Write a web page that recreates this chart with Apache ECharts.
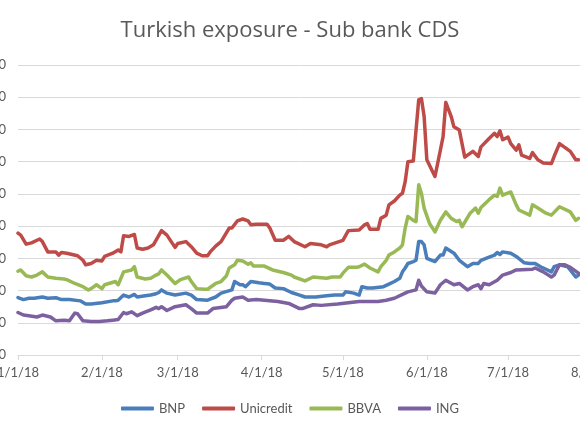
<!DOCTYPE html>
<html>
<head>
<meta charset="utf-8">
<script src="https://cdn.jsdelivr.net/npm/echarts@6/dist/echarts.min.js"></script>
<style>html,body{margin:0;padding:0;background:#fff;}#c{width:580px;height:435px;}</style>
</head>
<body>
<div id="c"></div>
<script>
var seriesNames = ['BNP', 'Unicredit', 'BBVA', 'ING'];
var yTicks = [0, 50, 100, 150, 200, 250, 300, 350, 400, 450];
var xRange = ['2018-01-01', '2018-08-01'];

var bnp = [
['2018-01-01',89],['2018-01-03',86],['2018-01-05',88],['2018-01-07',88],['2018-01-10',90],['2018-01-12',88],['2018-01-15',89],['2018-01-17',86],['2018-01-20',86],['2018-01-24',84],['2018-01-26',79],['2018-01-28',79],['2018-02-01',81],['2018-02-05',84],['2018-02-06',84],['2018-02-07',85],['2018-02-09',93],['2018-02-11',90],['2018-02-13',94],['2018-02-14',90],['2018-02-17',92],['2018-02-19',93],['2018-02-21',95],['2018-02-22',97],['2018-02-23',101],['2018-02-25',96],['2018-02-28',93],['2018-03-04',96],['2018-03-06',93],['2018-03-08',86],['2018-03-12',85],['2018-03-15',90],['2018-03-17',96],['2018-03-21',101],['2018-03-22',114],['2018-03-24',109],['2018-03-25',109],['2018-03-26',106],['2018-03-28',114],['2018-03-31',112],['2018-04-02',111],['2018-04-04',110],['2018-04-06',104],['2018-04-09',103],['2018-04-12',97],['2018-04-15',93],['2018-04-17',90],['2018-04-21',90],['2018-04-25',92],['2018-04-28',93],['2018-05-01',93],['2018-05-02',98],['2018-05-05',96],['2018-05-07',93],['2018-05-08',106],['2018-05-10',104],['2018-05-12',104],['2018-05-16',106],['2018-05-18',110],['2018-05-20',114],['2018-05-22',119],['2018-05-23',129],['2018-05-24',135],['2018-05-25',142],['2018-05-27',145],['2018-05-28',147],['2018-05-29',176],['2018-05-30',176],['2018-05-31',171],['2018-06-01',150],['2018-06-04',145],['2018-06-06',155],['2018-06-07',155],['2018-06-08',166],['2018-06-11',158],['2018-06-13',147],['2018-06-16',137],['2018-06-18',142],['2018-06-20',142],['2018-06-21',147],['2018-06-24',152],['2018-06-26',155],['2018-06-27',159],['2018-06-28',156],['2018-06-29',160],['2018-07-02',158],['2018-07-04',153],['2018-07-07',143],['2018-07-09',142],['2018-07-11',142],['2018-07-13',137],['2018-07-17',129],['2018-07-18',137],['2018-07-20',140],['2018-07-23',137],['2018-07-26',121],['2018-07-27',124]
];

var unicredit = [
['2018-01-01',189],['2018-01-02',186],['2018-01-04',172],['2018-01-06',174],['2018-01-09',180],['2018-01-10',176],['2018-01-12',160],['2018-01-15',160],['2018-01-16',155],['2018-01-17',159],['2018-01-19',158],['2018-01-23',154],['2018-01-25',147],['2018-01-26',140],['2018-01-28',142],['2018-01-30',147],['2018-02-01',146],['2018-02-02',153],['2018-02-05',158],['2018-02-07',163],['2018-02-08',160],['2018-02-09',185],['2018-02-11',184],['2018-02-13',187],['2018-02-14',166],['2018-02-16',164],['2018-02-18',166],['2018-02-20',171],['2018-02-23',193],['2018-02-25',186],['2018-02-28',167],['2018-03-01',173],['2018-03-04',176],['2018-03-06',168],['2018-03-08',158],['2018-03-10',154],['2018-03-12',154],['2018-03-13',160],['2018-03-15',169],['2018-03-17',176],['2018-03-20',197],['2018-03-21',197],['2018-03-23',208],['2018-03-25',211],['2018-03-27',208],['2018-03-28',202],['2018-03-30',203],['2018-04-03',203],['2018-04-04',197],['2018-04-06',178],['2018-04-09',178],['2018-04-11',184],['2018-04-13',176],['2018-04-17',168],['2018-04-19',173],['2018-04-23',171],['2018-04-25',168],['2018-04-26',171],['2018-05-01',178],['2018-05-03',193],['2018-05-07',194],['2018-05-09',202],['2018-05-10',204],['2018-05-11',195],['2018-05-14',195],['2018-05-15',212],['2018-05-17',217],['2018-05-18',233],['2018-05-20',239],['2018-05-22',248],['2018-05-23',251],['2018-05-24',269],['2018-05-25',300],['2018-05-27',301],['2018-05-29',396],['2018-05-30',398],['2018-05-31',370],['2018-06-01',303],['2018-06-04',277],['2018-06-06',318],['2018-06-07',339],['2018-06-08',392],['2018-06-10',370],['2018-06-11',354],['2018-06-13',349],['2018-06-15',307],['2018-06-18',316],['2018-06-20',308],['2018-06-21',323],['2018-06-24',336],['2018-06-26',344],['2018-06-27',339],['2018-06-28',348],['2018-06-29',334],['2018-07-01',338],['2018-07-02',328],['2018-07-04',318],['2018-07-05',326],['2018-07-06',310],['2018-07-09',305],['2018-07-10',314],['2018-07-12',303],['2018-07-14',298],['2018-07-17',297],['2018-07-18',308],['2018-07-20',328],['2018-07-24',316],['2018-07-26',303],['2018-07-27',303]
];

var bbva = [
['2018-01-01',130],['2018-01-02',132],['2018-01-04',123],['2018-01-06',121],['2018-01-08',124],['2018-01-10',129],['2018-01-12',121],['2018-01-15',119],['2018-01-18',118],['2018-01-19',117],['2018-01-22',111],['2018-01-25',106],['2018-01-27',101],['2018-01-28',103],['2018-01-30',109],['2018-02-01',103],['2018-02-02',109],['2018-02-06',114],['2018-02-07',109],['2018-02-09',129],['2018-02-12',132],['2018-02-13',137],['2018-02-14',121],['2018-02-17',118],['2018-02-19',119],['2018-02-21',124],['2018-02-22',126],['2018-02-23',132],['2018-02-25',124],['2018-02-28',111],['2018-03-02',117],['2018-03-05',121],['2018-03-06',114],['2018-03-08',103],['2018-03-11',102],['2018-03-12',102],['2018-03-15',111],['2018-03-17',114],['2018-03-19',123],['2018-03-20',135],['2018-03-22',140],['2018-03-23',147],['2018-03-25',146],['2018-03-27',141],['2018-03-28',143],['2018-03-29',138],['2018-04-02',138],['2018-04-05',132],['2018-04-09',128],['2018-04-12',124],['2018-04-13',121],['2018-04-17',115],['2018-04-20',121],['2018-04-25',119],['2018-04-27',121],['2018-04-30',121],['2018-05-01',127],['2018-05-03',136],['2018-05-06',136],['2018-05-07',137],['2018-05-09',141],['2018-05-11',135],['2018-05-14',129],['2018-05-15',137],['2018-05-17',147],['2018-05-18',155],['2018-05-20',160],['2018-05-22',166],['2018-05-23',171],['2018-05-24',197],['2018-05-25',215],['2018-05-27',209],['2018-05-28',207],['2018-05-29',264],['2018-05-30',251],['2018-05-31',228],['2018-06-02',204],['2018-06-04',191],['2018-06-06',209],['2018-06-08',222],['2018-06-10',212],['2018-06-12',207],['2018-06-13',209],['2018-06-14',199],['2018-06-17',220],['2018-06-19',228],['2018-06-20',220],['2018-06-21',229],['2018-06-24',241],['2018-06-26',248],['2018-06-27',246],['2018-06-28',259],['2018-06-29',248],['2018-07-02',253],['2018-07-04',233],['2018-07-05',225],['2018-07-09',217],['2018-07-10',233],['2018-07-12',228],['2018-07-15',220],['2018-07-17',217],['2018-07-20',230],['2018-07-24',222],['2018-07-26',209],['2018-07-27',212]
];

var ing = [
['2018-01-01',66],['2018-01-03',62],['2018-01-05',61],['2018-01-08',59],['2018-01-10',62],['2018-01-13',59],['2018-01-15',53],['2018-01-18',54],['2018-01-20',53],['2018-01-22',65],['2018-01-23',64],['2018-01-25',53],['2018-01-28',52],['2018-01-31',52],['2018-02-03',53],['2018-02-05',54],['2018-02-07',55],['2018-02-09',66],['2018-02-10',64],['2018-02-12',67],['2018-02-14',61],['2018-02-16',65],['2018-02-19',70],['2018-02-21',74],['2018-02-22',72],['2018-02-23',75],['2018-02-25',69],['2018-02-28',75],['2018-03-04',78],['2018-03-06',72],['2018-03-08',65],['2018-03-12',65],['2018-03-14',72],['2018-03-19',75],['2018-03-21',85],['2018-03-22',88],['2018-03-25',90],['2018-03-27',85],['2018-03-30',86],['2018-04-02',85],['2018-04-07',83],['2018-04-11',80],['2018-04-15',72],['2018-04-16',72],['2018-04-20',78],['2018-04-23',77],['2018-04-29',79],['2018-05-03',81],['2018-05-07',83],['2018-05-14',83],['2018-05-17',85],['2018-05-20',88],['2018-05-24',96],['2018-05-25',98],['2018-05-28',101],['2018-05-29',116],['2018-05-30',107],['2018-06-01',98],['2018-06-04',96],['2018-06-06',109],['2018-06-08',116],['2018-06-11',109],['2018-06-13',111],['2018-06-16',101],['2018-06-18',106],['2018-06-20',109],['2018-06-21',103],['2018-06-22',111],['2018-06-24',109],['2018-06-27',116],['2018-06-29',124],['2018-07-02',128],['2018-07-04',132],['2018-07-10',133],['2018-07-11',135],['2018-07-14',129],['2018-07-17',121],['2018-07-18',124],['2018-07-20',140],['2018-07-22',140],['2018-07-24',136],['2018-07-27',127]
];

var colors = ['#4A7EBB', '#BE4B48', '#98B954', '#7D60A0'];
var seriesData = [bnp, unicredit, bbva, ing];

function toTime(s) { var p = s.split('-'); return new Date(+p[0], +p[1] - 1, +p[2]).getTime(); }

var chart = echarts.init(document.getElementById('c'), null, { renderer: 'canvas' });
var font = 'Lato, "Open Sans", sans-serif';
chart.setOption({
  animation: false,
  backgroundColor: '#ffffff',
  title: {
    text: 'Turkish exposure - Sub bank CDS',
    left: 'center',
    top: 15,
    textStyle: { fontFamily: '"Open Sans", Lato, sans-serif', fontSize: 22, fontWeight: 'normal', color: '#595959' }
  },
  legend: {
    data: seriesNames,
    bottom: 15,
    left: 'center',
    icon: 'roundRect',
    itemWidth: 33,
    itemHeight: 4,
    itemGap: 17,
    textStyle: { fontFamily: font, fontSize: 13, color: '#595959' }
  },
  grid: { left: 18, top: 65, width: 574, height: 290, containLabel: false, outerBoundsMode: 'none' },
  xAxis: {
    type: 'time',
    min: toTime(xRange[0]),
    max: toTime(xRange[1]),
    splitNumber: 7,
    minInterval: 28 * 86400000,
    axisLine: { show: true, lineStyle: { color: '#d9d9d9', width: 1 } },
    axisTick: { show: true, length: 5, lineStyle: { color: '#d9d9d9' } },
    splitLine: { show: false },
    axisLabel: {
      color: '#595959', fontFamily: font, fontSize: 13, margin: 11,
      showMinLabel: true, showMaxLabel: true, hideOverlap: false,
      formatter: function (v) { var d = new Date(v); return (d.getMonth() + 1) + '/' + d.getDate() + '/18'; }
    }
  },
  yAxis: {
    type: 'value',
    min: yTicks[0],
    max: yTicks[yTicks.length - 1],
    interval: yTicks[1] - yTicks[0],
    axisLine: { show: false },
    axisTick: { show: false },
    splitLine: { lineStyle: { color: '#d9d9d9', width: 1 } },
    axisLabel: { color: '#595959', fontFamily: font, fontSize: 13, margin: 12 }
  },
  series: seriesNames.map(function (n, i) {
    return {
      name: n,
      type: 'line',
      showSymbol: false,
      symbol: 'none',
      color: colors[i],
      lineStyle: { width: 3.5, color: colors[i], cap: 'round', join: 'round' },
      data: seriesData[i].map(function (p) { return [toTime(p[0]), p[1]]; })
    };
  })
});
</script>
</body>
</html>
